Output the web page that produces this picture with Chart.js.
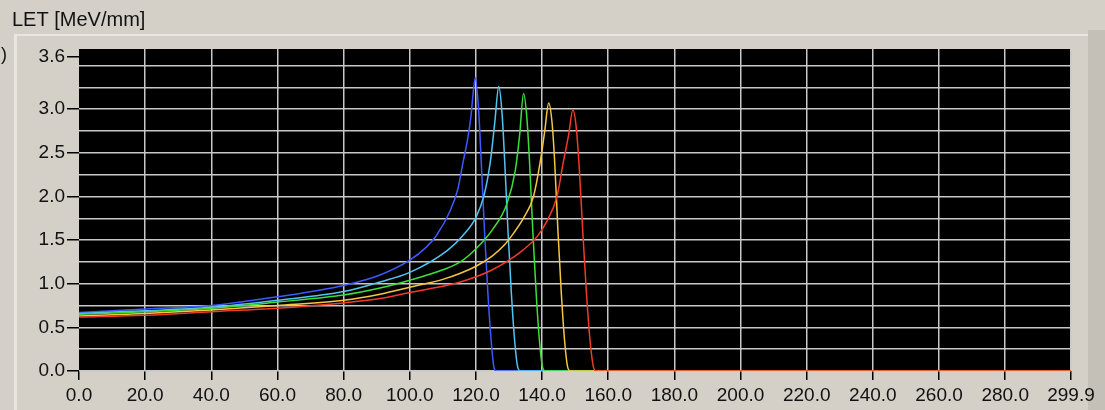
<!DOCTYPE html>
<html>
<head>
<meta charset="utf-8">
<script src="https://cdn.jsdelivr.net/npm/chart.js@4.4.1/dist/chart.umd.min.js"></script>
<style>
  html, body { margin: 0; padding: 0; background: #d4d0c8; }
  #wrap { width: 1105px; height: 410px; }
</style>
</head>
<body>
<div id="wrap"><canvas id="letChart" width="1105" height="410"></canvas></div>
<script>
// LET vs depth, five beams with increasing range
const xTicks = [0, 20, 40, 60, 80, 100, 120, 140, 160, 180, 200, 220, 240, 260, 280, 299.9];
const yTicks = [0, 0.25, 0.5, 0.75, 1, 1.25, 1.5, 1.75, 2, 2.25, 2.5, 2.75, 3, 3.25, 3.5, 3.6];
const yLabelled = [0, 0.5, 1, 1.5, 2, 2.5, 3, 3.6];

const blueDepth = [0, 20, 40, 60, 80, 91, 100, 105, 108, 112, 114.5, 116.2, 117.5, 118.5, 119.2, 119.8, 120.8, 121.6, 122.6, 123.6, 124.6, 125.4, 126, 299.9];
const blueLet   = [0.67, 0.71, 0.75, 0.85, 0.98, 1.1, 1.27, 1.42, 1.55, 1.82, 2.08, 2.41, 2.66, 2.92, 3.2, 3.36, 3.0, 2.4, 1.6, 0.9, 0.35, 0.05, 0, 0];

const cyanDepth = [0, 20, 40, 60, 80, 91, 100, 111.3, 116, 120, 122.5, 124.4, 125.7, 126.9, 127.9, 128.7, 129.7, 130.7, 131.7, 132.6, 133.4, 299.9];
const cyanLet   = [0.66, 0.69, 0.73, 0.81, 0.91, 1.02, 1.13, 1.38, 1.55, 1.76, 2.02, 2.41, 2.85, 3.26, 2.95, 2.4, 1.6, 0.9, 0.35, 0.05, 0, 0];

const greenDepth = [0, 20, 40, 60, 80, 91, 100, 110, 115.3, 120, 125, 129.4, 131.9, 133.2, 134.4, 135.4, 136.2, 137.2, 138.2, 139.2, 140.1, 141, 299.9];
const greenLet   = [0.65, 0.68, 0.72, 0.79, 0.87, 0.95, 1.04, 1.16, 1.25, 1.4, 1.62, 1.92, 2.3, 2.7, 3.18, 2.9, 2.4, 1.6, 0.9, 0.35, 0.05, 0, 0];

const yellowDepth = [0, 20, 40, 60, 80, 91, 100, 110, 115.3, 120, 125, 128.5, 131.4, 134.5, 137.4, 139.5, 140.8, 142, 143, 143.8, 144.8, 145.8, 146.8, 147.7, 148.5, 299.9];
const yellowLet   = [0.63, 0.66, 0.70, 0.75, 0.81, 0.88, 0.96, 1.05, 1.12, 1.2, 1.32, 1.44, 1.58, 1.76, 2.0, 2.41, 2.75, 3.07, 2.85, 2.4, 1.6, 0.9, 0.35, 0.05, 0, 0];

const redDepth = [0, 20, 40, 60, 80, 91, 100, 110, 115.3, 120, 125, 130, 134, 138.5, 141.5, 144.5, 146.5, 148, 149.3, 150.3, 151.2, 152.3, 153.4, 154.5, 155.5, 156.3, 299.9];
const redLet   = [0.62, 0.64, 0.68, 0.72, 0.78, 0.83, 0.9, 0.97, 1.02, 1.08, 1.16, 1.27, 1.38, 1.54, 1.72, 2.0, 2.41, 2.7, 2.99, 2.8, 2.35, 1.6, 0.9, 0.35, 0.05, 0, 0];

const toPoints = (xs, ys) => xs.map((x, i) => ({ x: x, y: ys[i] }));

function curve(xs, ys, color) {
  return {
    data: toPoints(xs, ys),
    borderColor: color,
    borderWidth: 1.5,
    pointRadius: 0,
    cubicInterpolationMode: "monotone",
    fill: false,
  };
}

const FONT = "'Liberation Sans', Arial, sans-serif";
const GRID = "#c8c8c8";

// window frame, black plot area, title
const framePlugin = {
  id: "frame",
  beforeDraw(chart) {
    const ctx = chart.ctx;
    const a = chart.chartArea;
    ctx.save();
    ctx.fillStyle = "#d4d0c8";
    ctx.fillRect(0, 0, chart.width, chart.height);
    ctx.fillStyle = "#e8e6e0";
    ctx.fillRect(14, 34, 1074, 2);
    ctx.fillRect(14, 34, 3, chart.height - 34);
    ctx.fillStyle = "#c4c0b8";
    ctx.fillRect(1088, 30, 17, chart.height - 30);
    ctx.fillStyle = "#000";
    ctx.fillRect(a.left, a.top, a.right - a.left, a.bottom - a.top);
    ctx.restore();
  },
  afterDraw(chart) {
    const ctx = chart.ctx;
    ctx.save();
    ctx.fillStyle = "#111";
    ctx.font = "20px " + FONT;
    ctx.textBaseline = "alphabetic";
    ctx.fillText("LET [MeV/mm]", 12, 26);
    ctx.font = "18px " + FONT;
    ctx.fillText(")", 1, 60);
    ctx.restore();
  },
};

new Chart(document.getElementById("letChart"), {
  type: "line",
  data: {
    datasets: [
      curve(redDepth, redLet, "#f03a2a"),
      curve(yellowDepth, yellowLet, "#f5c640"),
      curve(greenDepth, greenLet, "#3ede3a"),
      curve(cyanDepth, cyanLet, "#52c4f2"),
      curve(blueDepth, blueLet, "#4058ff"),
    ],
  },
  options: {
    responsive: false,
    animation: false,
    layout: { padding: { left: 0, right: 34, top: 49, bottom: 0 } },
    plugins: { legend: { display: false }, tooltip: { enabled: false } },
    scales: {
      x: {
        type: "linear",
        min: 0,
        max: 299.9,
        afterBuildTicks: (scale) => { scale.ticks = xTicks.map((v) => ({ value: v })); },
        afterFit: (scale) => { scale.height = 39; },
        border: { display: false },
        grid: {
          color: (c) => (c.tick && c.tick.value === 0 ? "transparent" : GRID),
          lineWidth: 1.5,
          tickColor: "#000",
          tickLength: 9,
        },
        ticks: {
          autoSkip: false,
          maxRotation: 0,
          padding: 4,
          color: "#111",
          font: { family: FONT, size: 19 },
          callback: (v) => Number(v).toFixed(1),
        },
      },
      y: {
        type: "linear",
        min: 0,
        max: 3.69,
        afterBuildTicks: (scale) => { scale.ticks = yTicks.map((v) => ({ value: v })); },
        afterFit: (scale) => { scale.width = 79; },
        border: { display: false },
        grid: {
          color: (c) => (c.tick && c.tick.value === 3.6 ? "transparent" : GRID),
          lineWidth: 1.5,
          tickColor: (c) => (c.tick && yLabelled.includes(c.tick.value) ? "#000" : "transparent"),
          tickLength: 12,
        },
        ticks: {
          autoSkip: false,
          padding: 2,
          color: "#111",
          font: { family: FONT, size: 19 },
          callback: (v) => (yLabelled.includes(v) ? Number(v).toFixed(1) : ""),
        },
      },
    },
  },
  plugins: [framePlugin],
});
</script>
</body>
</html>
